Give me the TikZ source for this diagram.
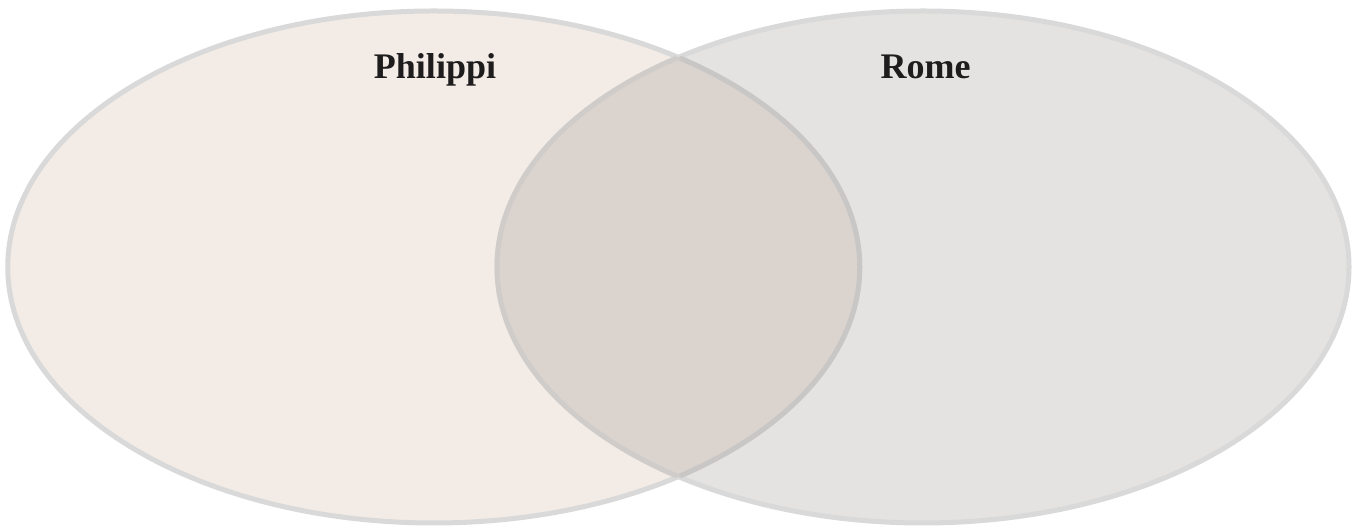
\documentclass[tikz,border=0pt]{standalone}
\usepackage{fontspec}
\setmainfont{Liberation Serif}
\definecolor{leftfill}{RGB}{243,236,230}
\definecolor{rightfill}{RGB}{228,227,225}
\definecolor{overlapfill}{RGB}{219,211,206}
\definecolor{outerline}{RGB}{217,217,217}
\definecolor{innerleft}{RGB}{201,199,198}
\definecolor{innerright}{RGB}{208,204,201}
\definecolor{labeltext}{RGB}{30,28,28}
\tikzset{
  setlabel/.style={anchor=base, text=labeltext, font=\fontsize{36}{40}\selectfont\bfseries, inner sep=0pt},
  ringline/.style={line width=5pt}
}
\begin{document}
\begin{tikzpicture}[x=1pt,y=1pt]
\useasboundingbox (0,0) rectangle (1355,526);
\def\lefte{(433.75,259) ellipse [x radius=426pt, y radius=256pt]}
\def\righte{(923,259) ellipse [x radius=426pt, y radius=256pt]}
% fills
\fill[leftfill] \lefte;
\fill[rightfill] \righte;
\begin{scope}
  \clip \lefte;
  \fill[overlapfill] \righte;
\end{scope}
% outer borders
\draw[ringline, outerline] \lefte;
\draw[ringline, outerline] \righte;
% inner borders
\begin{scope}
  \clip \righte;
  \draw[ringline, innerleft] \lefte;
\end{scope}
\begin{scope}
  \clip \lefte;
  \draw[ringline, innerright] \righte;
\end{scope}
\node[setlabel] (philippi) at (435,447) {Philippi};
\node[setlabel] (rome) at (925.5,447) {Rome};
\end{tikzpicture}
\end{document}
